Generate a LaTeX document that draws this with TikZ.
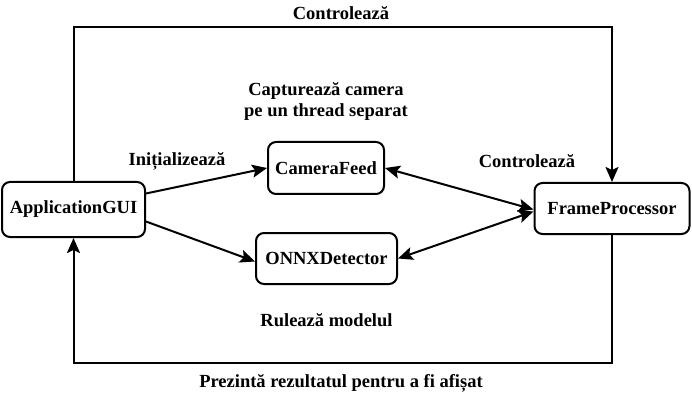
\documentclass[tikz,border=0pt]{standalone}
\usepackage{fontspec}
\setmainfont{Liberation Serif}
\usetikzlibrary{
  arrows.meta,
  positioning
}

\tikzset{
  box/.style = {draw, line width=2pt, rounded corners=8pt, align=center},
  lbl/.style = {align=center},
  arr/.style = {line width=2pt, -{Stealth[length=15pt,width=13pt,inset=3pt]}},
  biarr/.style = {line width=2pt, {Stealth[length=15pt,width=13pt,inset=3pt]}-{Stealth[length=15pt,width=13pt,inset=3pt]}}
}

\begin{document}
\begin{tikzpicture}[x=1pt, y=-1pt, font=\fontsize{18.5}{21}\selectfont\bfseries]
    \useasboundingbox (0,0) rectangle (692,403);

    \node[box,minimum width=143pt,minimum height=55pt] (gui) at (73.5,209.5) {ApplicationGUI};
    \node[box,minimum width=116pt,minimum height=52pt] (cam) at (326,168) {CameraFeed};
    \node[box,minimum width=141pt,minimum height=51pt] (onnx) at (326.5,258.5) {ONNXDetector};
    \node[box,minimum width=155pt,minimum height=51pt] (frame) at (612,208.5) {FrameProcessor};

    \node[lbl,above = 17pt of cam] (capt) {Capturează camera\\pe un thread separat};
    \node[lbl,below = 25pt of onnx] (rul) {Rulează modelul};
    \node[lbl] (init) at (177,161) {Inițializează};
    \node[lbl] (ctl) at (527,161) {Controlează};
    \node[lbl] (ctltop) at (341,13) {Controlează};
    \node[lbl] (prez) at (341,383) {Prezintă rezultatul pentru a fi afișat};

    \coordinate (top) at (341,27);
    \coordinate (bot) at (341,363);

    \draw[arr] (gui.north) |- (top) -| (frame.north);
    \draw[arr] (frame.south) |- (bot) -| (gui.south);
    \draw[arr] ([yshift=16pt]gui.east) -- (cam.west);
    \draw[arr] ([yshift=-12pt]gui.east) -- ([yshift=-3pt]onnx.west);
    \draw[biarr] (cam.east) -- ([yshift=-1pt]frame.west);
    \draw[biarr] (onnx.east) -- ([yshift=-3pt]frame.west);
  \end{tikzpicture}
\end{document}
